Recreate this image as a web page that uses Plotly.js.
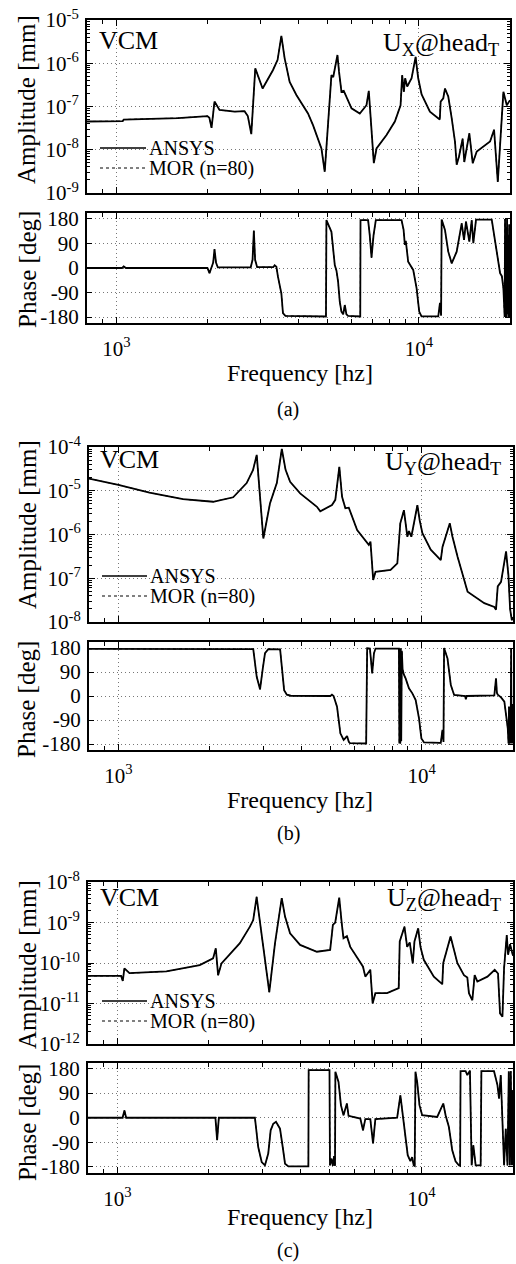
<!DOCTYPE html>
<html>
<head>
<meta charset="utf-8">
<script src="https://cdn.plot.ly/plotly-3.0.1.min.js"></script>
<style>html,body{margin:0;padding:0;background:#fff}#chart{width:516px;height:1264px}</style>
</head>
<body>
<div id="chart"></div>
<script>
// ---------------- DATA ----------------
// (a) U_X @ head_T
const freqAmpA = [800,1050,1058,1300,1600,2000,2030,2064,2111,2193,2459,2653,2720,2793,2879,3044,3131,3292,3412,3511,3600,3740,3936,4140,4300,4467,4641,4762,4884,5139,5211,5380,5445,5546,5645,5988,6377,6710,6829,7096,7243,7816,8327,8697,8804,8918,9007,9146,9459,9752,9947,10208,10874,11648,11720,11800,12037,12193,12503,12832,13158,13330,13568,13951,14125,14678,15060,15529,17186,17717,18226,19020,19519,20000];
const ampA = [4.5e-8,4.6e-8,5.0e-8,5.1e-8,5.4e-8,6.0e-8,5.5e-8,3.2e-8,1.3e-7,8.3e-8,7.6e-8,7.8e-8,6.0e-8,2.3e-8,7.6e-7,2.6e-7,3.7e-7,6.9e-7,1.2e-6,4.3e-6,1.3e-6,3.7e-7,1.85e-7,1.07e-7,6.9e-8,3.7e-8,1.8e-8,1.07e-8,3.1e-9,5.3e-7,4.8e-7,1.55e-6,6.4e-7,2.2e-7,2.3e-7,9.1e-8,6.9e-8,1.07e-7,2.3e-7,4.9e-9,1.07e-8,2.2e-8,4.5e-8,1.07e-7,5.3e-7,2.2e-7,4.5e-7,2.9e-7,4.5e-7,1.4e-6,4.5e-7,1.9e-7,7.6e-8,5.4e-8,5.0e-8,1.3e-7,1.55e-7,2.6e-7,1.7e-7,5.4e-8,1.55e-8,4.5e-9,7e-9,1.8e-8,5.2e-9,2.4e-8,4.9e-9,9.1e-9,1.55e-8,2.9e-8,1.8e-9,2.2e-7,1.07e-7,1.4e-7];
const freqPhA = [800,1045,1058,1075,2000,2032,2060,2090,2111,2135,2165,2780,2820,2848,2875,2920,3300,3336,3380,3421,3511,3554,3620,4930,4947,5008,5139,5272,5340,5406,5476,5546,5620,5689,5760,5834,6400,6412,6794,6880,6973,7080,7204,8763,8900,8986,9050,9216,9575,9826,10023,10200,11586,11737,11840,11890,12193,12503,12832,13330,13672,13850,14096,14308,14678,14946,15130,15444,17405,18083,18546,18800,19020,19200,19260,19330,19400,19480,19560,19640,19720,19800,19880,19950,20000];
const phA = [0,0,6,0,0,-19,0,20,69,20,2,2,30,137,30,3,3,10,5,-32,-93,-166,-176,-178,176,160,133,11,-10,-50,-124,-160,-170,-136,-170,-176,-178,176,176,120,38,120,176,176,140,85,100,23,-7,-75,-160,-178,-178,-128,-175,178,140,60,17,60,140,164,103,170,97,175,91,178,178,48,-19,-30,-75,-180,180,-180,150,-180,180,-170,120,-180,160,-180,-100];

// (b) U_Y @ head_T
const freqAmpB = [800,1000,1266,1633,2053,2390,2648,2780,2858,2931,3005,3162,3329,3458,3558,3683,3975,4515,4630,5061,5190,5351,5463,5602,5750,6126,6691,6778,6920,7043,7896,8311,8500,8738,8967,9078,9245,9678,9848,10054,10710,11559,11710,12379,12633,13130,13806,14167,16083,17356,17579,17812,18264,18973,19312,19563,19817,20000];
const ampB = [1.9e-5,1.36e-5,9.1e-6,6.4e-6,5.6e-6,7.1e-6,1.5e-5,3.0e-5,6.6e-5,6.2e-6,8.1e-7,5.2e-6,1.5e-5,9e-5,3e-5,1.6e-5,8.7e-6,4.3e-6,3.4e-6,4.7e-6,6.2e-6,3.5e-5,7.3e-6,4e-6,4.1e-6,1.26e-6,5.8e-7,6.9e-7,9.1e-8,1.4e-7,1.55e-7,2.2e-7,1.8e-6,3.6e-6,8.9e-7,1.2e-6,8.9e-7,4.7e-6,2.1e-6,1.07e-6,4.5e-7,2.6e-7,5.2e-7,1.8e-6,8.9e-7,3.1e-7,9.1e-8,4.9e-8,2.7e-8,2.2e-8,1.9e-8,6.5e-8,8.3e-8,4.1e-7,1.2e-7,2e-8,1.1e-8,1.3e-8];
const freqPhB = [800,2784,2858,2931,2990,3044,3121,3414,3458,3519,3592,3700,5000,5060,5123,5258,5393,5530,5600,5675,5750,5800,6560,6610,6750,6867,6960,7043,8412,8440,8470,8500,8530,8560,8600,8650,8738,8851,9078,9316,9553,9797,9977,10177,11559,11710,11800,11852,12164,12474,12792,13900,13985,14070,17356,17579,17700,17812,18264,18730,19221,19330,19400,19480,19560,19640,19720,19780,19860,19940,20000];
const phB = [177,176,72,25,100,161,176,175,110,22,5,1,0,5,0,-40,-140,-165,-158,-150,-172,-177,-178,179,178,85,160,178,178,-178,178,-178,178,-170,170,100,80,66,29,10,-15,-84,-159,-174,-176,-127,-172,180,141,41,4,0,-12,0,2,66,12,5,-5,-21,-121,-178,-40,-178,-60,-178,180,-178,-30,-178,-90];

// (c) U_Z @ head_T
const freqAmpC = [800,1028,1041,1054,1095,1448,1865,2063,2106,2143,2199,2527,2727,2796,2869,2942,3017,3158,3298,3381,3470,3558,3696,3988,4528,5008,5112,5203,5363,5473,5540,5685,5831,6210,6422,6535,6788,6908,7051,7705,8417,8481,8790,8972,9151,9361,9483,9752,9924,10176,10980,11705,11794,12465,12781,13119,13794,14151,14325,14699,14959,15269,16478,17414,17856,18130,18464,18691,19078,19268,19561,20000];
const ampC = [4.8e-11,4.8e-11,3.6e-11,7.4e-11,5.6e-11,6.2e-11,8.9e-11,1.3e-10,2.3e-10,5.0e-11,9.8e-11,3.1e-10,7.9e-10,1.15e-9,4.3e-9,9.5e-10,2.5e-10,1.9e-11,3.1e-10,1.15e-9,4.0e-9,1.4e-9,5.4e-10,2.8e-10,1.9e-10,2.1e-10,8.7e-10,1.0e-9,4.1e-9,8.7e-10,4.1e-10,4.6e-10,2.5e-10,1.2e-10,8.1e-11,4.6e-11,6.8e-11,1.0e-11,1.8e-11,1.8e-11,2.4e-11,3.4e-10,7.9e-10,2.5e-10,3.2e-10,9.8e-11,3.4e-10,7.2e-10,2.5e-10,1.2e-10,4.6e-11,3.0e-11,1.0e-10,4.5e-10,2.1e-10,1.0e-10,5.0e-11,4.4e-11,1.8e-11,1.2e-11,5.0e-11,3.5e-11,4.6e-11,6.8e-11,5.5e-11,5.7e-12,4.7e-12,7.4e-11,4.9e-10,1.6e-10,2.9e-10,1.5e-10];
const freqPhC = [800,1040,1054,1068,2100,2127,2155,2832,2904,2981,3056,3133,3191,3254,3322,3425,3496,3558,3650,4246,4255,4982,5000,5060,5110,5160,5195,5210,5335,5433,5540,5685,5755,6292,6422,6535,6788,6929,7051,8317,8523,8700,8853,9010,9196,9316,9431,9500,9555,9678,9849,10053,11266,11794,12003,12308,12623,12944,13271,13400,13443,13971,14151,14434,14622,14812,15074,15658,15741,17324,17776,17995,18229,18691,18934,19180,19373,19521,19670,19819,19900,20000];
const phC = [0,0,27,0,0,-82,0,0,-107,-162,-174,-131,-46,-22,-15,-40,-107,-168,-178,-178,174,174,-174,-150,-176,-140,-176,168,131,46,9,52,7,-3,-46,-5,-5,-94,-5,0,82,3,-76,-137,-159,-144,-174,-176,168,131,46,9,3,52,9,-34,-119,-159,-174,-176,170,170,156,172,-174,-101,-174,-174,170,170,119,70,156,-174,-40,-174,170,-174,170,-174,100,-174];

// tick labels / text
const xTickVals = [1000, 10000];
const xTickText = ['10<sup>3</sup>', '10<sup>4</sup>'];
const ampTickValsA = [1e-9,1e-8,1e-7,1e-6,1e-5];
const ampTickTextA = ['10<sup>-9</sup>','10<sup>-8</sup>','10<sup>-7</sup>','10<sup>-6</sup>','10<sup>-5</sup>'];
const ampTickValsB = [1e-8,1e-7,1e-6,1e-5,1e-4];
const ampTickTextB = ['10<sup>-8</sup>','10<sup>-7</sup>','10<sup>-6</sup>','10<sup>-5</sup>','10<sup>-4</sup>'];
const ampTickValsC = [1e-12,1e-11,1e-10,1e-9,1e-8];
const ampTickTextC = ['10<sup>-12</sup>','10<sup>-11</sup>','10<sup>-10</sup>','10<sup>-9</sup>','10<sup>-8</sup>'];
const phTickVals = [-180,-90,0,90,180];
const phTickText = ['-180','-90','0','90','180'];
const seriesNames = ['ANSYS', 'MOR (n=80)'];
const panelTags = ['(a)', '(b)', '(c)'];
const dirLabels = ['U<sub>X</sub>@head<sub>T</sub>', 'U<sub>Y</sub>@head<sub>T</sub>', 'U<sub>Z</sub>@head<sub>T</sub>'];

// ---------------- LAYOUT / STYLE ----------------
const W = 516, H = 1264;
const FONT = 'Liberation Serif, Times New Roman, serif';
const px = x => x / W;
const py = y => 1 - y / H;

const panels = [
  {fa: freqAmpA, a: ampA, fp: freqPhA, p: phA, tv: ampTickValsA, tt: ampTickTextA, ar: [-9,-5],
   xd: [87,510], ay: [20,193], py: [213,323], pr: [-202,202],
   ampT: 100, phT: 270, freqT: 373, tagY: 410, vcm: [128,41], dirL: [381,41], leg: [100,146,148,168], legX: 147},
  {fa: freqAmpB, a: ampB, fp: freqPhB, p: phB, tv: ampTickValsB, tt: ampTickTextB, ar: [-8,-4],
   xd: [89,513], ay: [447,622], py: [642,750], pr: [-202.5,202.5],
   ampT: 525, phT: 700, freqT: 800, tagY: 833, vcm: [129,459], dirL: [383,460], leg: [102,147,576,596], legX: 148},
  {fa: freqAmpC, a: ampC, fp: freqPhC, p: phC, tv: ampTickValsC, tt: ampTickTextC, ar: [-12,-8],
   xd: [88,513], ay: [882,1044], py: [1063,1173], pr: [-202,200],
   ampT: 965, phT: 1123, freqT: 1217, tagY: 1250, vcm: [129,897], dirL: [385,896], leg: [102,147,1001,1021], legX: 148}
];

const xMinor = [900,2000,3000,4000,5000,6000,7000,8000,9000,20000];
function yMinor(r) {
  const out = [];
  for (let e = r[0]; e < r[1]; e++) for (let k = 2; k <= 9; k++) out.push(k * Math.pow(10, e));
  return out;
}

const gridStyle = {showgrid: true, gridcolor: '#777', gridwidth: 1, griddash: '1px,3px'};
const lineStyle = {showline: true, linecolor: '#000', linewidth: 2, mirror: 'allticks',
  ticks: 'inside', tickcolor: '#000', tickwidth: 1, zeroline: false};

const traces = [];
const layout = {
  width: W, height: H, margin: {l: 0, r: 0, t: 0, b: 0},
  paper_bgcolor: '#fff', plot_bgcolor: '#fff', showlegend: false,
  font: {family: FONT, color: '#000', size: 21},
  annotations: [], shapes: []
};

panels.forEach((P, i) => {
  const na = 2 * i + 1, np = 2 * i + 2;
  const xa = 'x' + na, ya = 'y' + na, xp = 'x' + np, yp = 'y' + np;
  // amplitude and phase: ANSYS solid + MOR (n=80) dotted (coincident)
  traces.push({x: P.fa, y: P.a, xaxis: xa, yaxis: ya, mode: 'lines', name: seriesNames[0],
    line: {color: '#000', width: 1.8}, hoverinfo: 'skip'});
  traces.push({x: P.fa, y: P.a, xaxis: xa, yaxis: ya, mode: 'lines', name: seriesNames[1],
    line: {color: '#000', width: 1, dash: 'dot'}, hoverinfo: 'skip'});
  traces.push({x: P.fp, y: P.p, xaxis: xp, yaxis: yp, mode: 'lines', name: seriesNames[0],
    line: {color: '#000', width: 1.8}, hoverinfo: 'skip'});
  traces.push({x: P.fp, y: P.p, xaxis: xp, yaxis: yp, mode: 'lines', name: seriesNames[1],
    line: {color: '#000', width: 1, dash: 'dot'}, hoverinfo: 'skip'});

  const xr = [Math.log10(800), Math.log10(20000)];
  const xdom = [px(P.xd[0]), px(P.xd[1])];
  const xbase = Object.assign({}, lineStyle, gridStyle, {
    type: 'log', range: xr, domain: xdom, tickmode: 'array', tickvals: xTickVals, ticktext: xTickText,
    ticklen: 6, tickfont: {family: FONT, size: 21, color: '#000'},
    minor: {tickmode: 'array', tickvals: xMinor, ticks: 'inside', ticklen: 4, tickcolor: '#000', tickwidth: 1, showgrid: false}
  });
  layout['xaxis' + na] = Object.assign({}, xbase, {anchor: ya, showticklabels: false});
  layout['xaxis' + np] = Object.assign({}, xbase, {anchor: yp, showticklabels: true, ticklabelstandoff: 6});

  layout['yaxis' + na] = Object.assign({}, lineStyle, gridStyle, {
    type: 'log', range: P.ar, domain: [py(P.ay[1]), py(P.ay[0])], anchor: xa,
    tickmode: 'array', tickvals: P.tv, ticktext: P.tt, ticklen: 6,
    tickfont: {family: FONT, size: 21, color: '#000'}, ticklabelstandoff: 2,
    minor: {tickmode: 'array', tickvals: yMinor(P.ar), ticks: 'inside', ticklen: 3, tickcolor: '#000', tickwidth: 1, showgrid: false}
  });
  layout['yaxis' + np] = Object.assign({}, lineStyle, gridStyle, {
    range: P.pr, domain: [py(P.py[1]), py(P.py[0])], anchor: xp,
    tickmode: 'array', tickvals: phTickVals, ticktext: phTickText, ticklen: 5,
    tickfont: {family: FONT, size: 21, color: '#000'}, ticklabelstandoff: 2
  });

  const ann = (x, y, text, opts) => layout.annotations.push(Object.assign({
    xref: 'paper', yref: 'paper', x: px(x), y: py(y), text: text, showarrow: false,
    xanchor: 'center', yanchor: 'middle', font: {family: FONT, size: 21, color: '#000'}
  }, opts || {}));

  ann(27, P.ampT, 'Amplitude [mm]', {textangle: -90, font: {family: FONT, size: 25, color: '#000'}});
  ann(27, P.phT, 'Phase [deg]', {textangle: -90, font: {family: FONT, size: 25, color: '#000'}});
  ann(300, P.freqT, 'Frequency [hz]', {font: {family: FONT, size: 24, color: '#000'}});
  ann(288, P.tagY, panelTags[i], {font: {family: FONT, size: 20, color: '#000'}});
  ann(P.vcm[0], P.vcm[1], 'VCM', {font: {family: FONT, size: 26, color: '#000'}});
  ann(P.dirL[0], P.dirL[1] + 3, dirLabels[i], {xanchor: 'left', font: {family: FONT, size: 26, color: '#000'}});
  // legend (text + sample lines)
  ann(P.legX, P.leg[2], seriesNames[0], {xanchor: 'left', font: {family: FONT, size: 20, color: '#000'}});
  ann(P.legX, P.leg[3], seriesNames[1], {xanchor: 'left', font: {family: FONT, size: 20, color: '#000'}});
  layout.shapes.push({type: 'line', xref: 'paper', yref: 'paper', x0: px(P.leg[0]), x1: px(P.leg[1]),
    y0: py(P.leg[2]), y1: py(P.leg[2]), line: {color: '#000', width: 1.5}});
  layout.shapes.push({type: 'line', xref: 'paper', yref: 'paper', x0: px(P.leg[0]), x1: px(P.leg[1]),
    y0: py(P.leg[3]), y1: py(P.leg[3]), line: {color: '#000', width: 1, dash: 'dot'}});
});

Plotly.newPlot('chart', traces, layout, {staticPlot: true, displayModeBar: false});
</script>
</body>
</html>
